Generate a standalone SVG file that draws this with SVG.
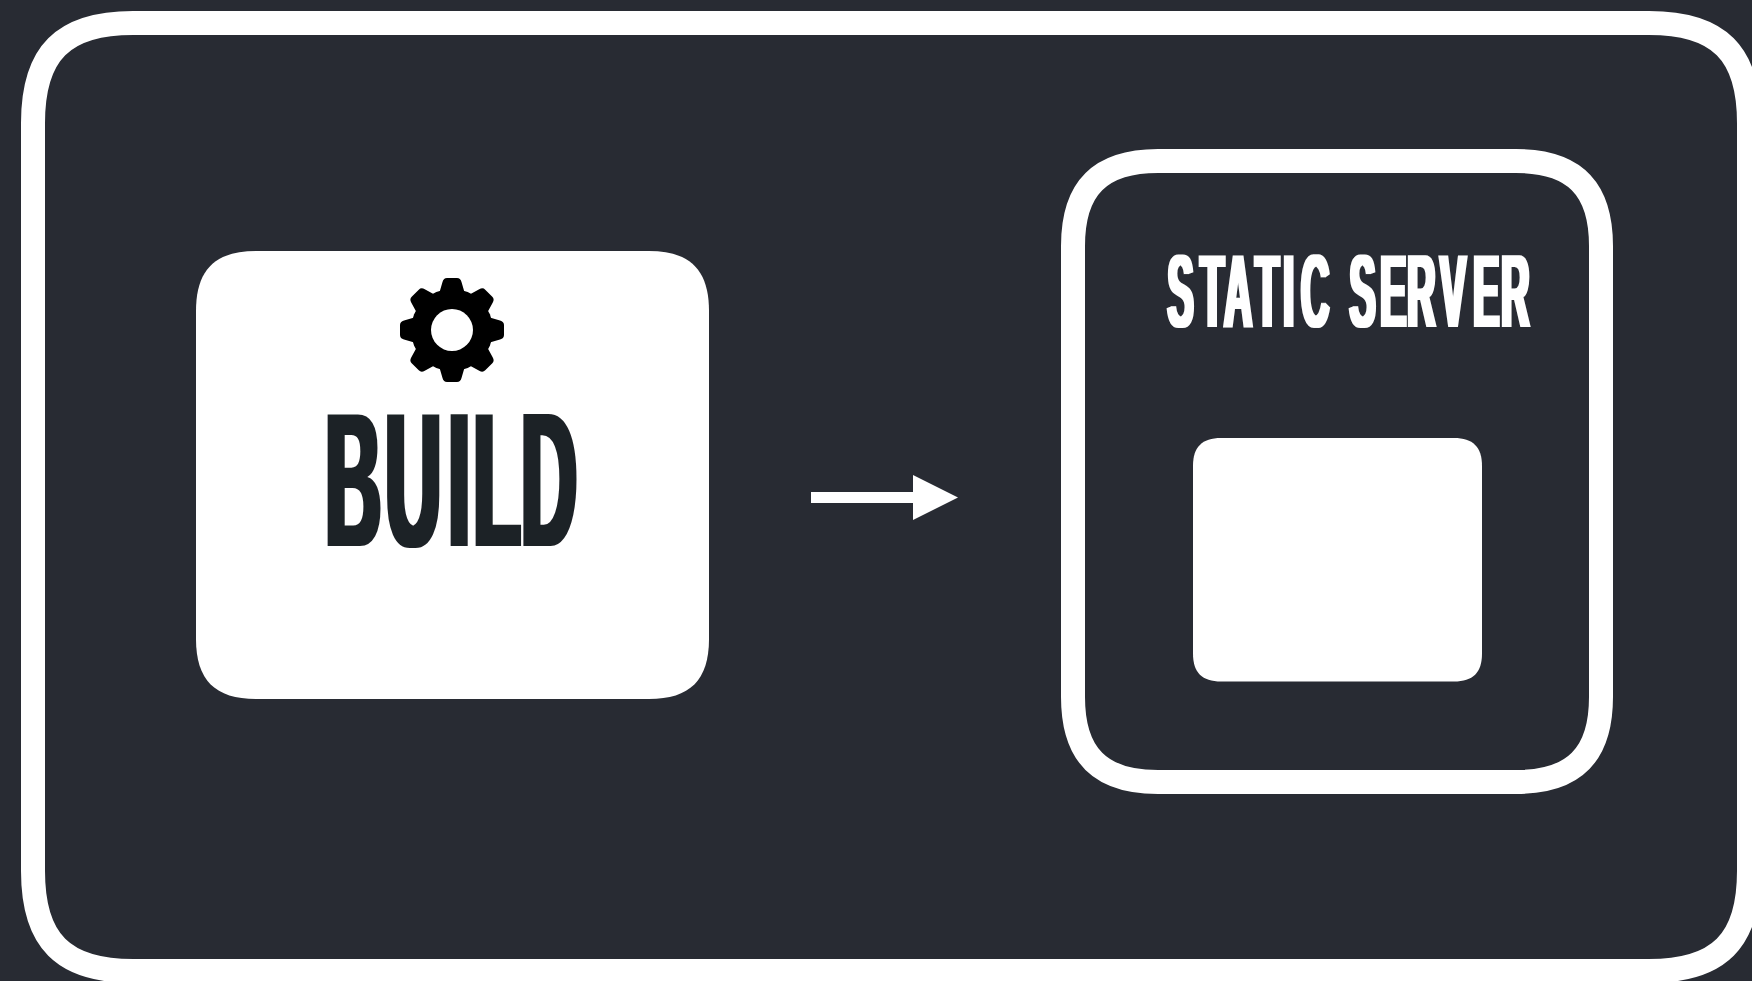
<svg xmlns="http://www.w3.org/2000/svg" width="1752" height="981" viewBox="0 0 1752 981">
<style>
.bg{fill:#282b33}
.frame{fill:none;stroke:#fff;stroke-width:24}
.solid{fill:#fff}
.label{font-family:"Liberation Sans",Arial,sans-serif;font-weight:700}
</style>
<defs>
<path id="tooth" d="M-13,-36 L-9.500,-48 Q-8.500,-52 -5,-52 L5,-52 Q8.500,-52 9.500,-48 L13,-36 Z" fill="#000"/>
<filter id="wideLg" filterUnits="userSpaceOnUse" x="300" y="380" width="310" height="190"><feMorphology operator="dilate" radius="3 0"/></filter>
<filter id="wideSm" filterUnits="userSpaceOnUse" x="1140" y="230" width="420" height="120"><feMorphology operator="dilate" radius="2 0"/></filter>
</defs>
<rect class="bg" width="1752" height="981"/>
<g id="outer-frame">
<path class="frame" d="M133,23 L1649,23 C1719,23 1749,53 1749,123 L1749,871 C1749,941 1719,971 1649,971 L133,971 C63,971 33,941 33,871 L33,123 C33,53 63,23 133,23 Z"/>
</g>
<g id="build">
<path class="solid" d="M256,251 L649,251 C690,251 709,270 709,311 L709,639 C709,680 690,699 649,699 L256,699 C215,699 196,680 196,639 L196,311 C196,270 215,251 256,251 Z"/>
<g id="gear" transform="translate(452,330)">
<circle r="41" fill="#000"/>
<use href="#tooth"/>
<use href="#tooth" transform="rotate(45)"/>
<use href="#tooth" transform="rotate(90)"/>
<use href="#tooth" transform="rotate(135)"/>
<use href="#tooth" transform="rotate(180)"/>
<use href="#tooth" transform="rotate(225)"/>
<use href="#tooth" transform="rotate(270)"/>
<use href="#tooth" transform="rotate(315)"/>
<circle r="21" fill="#fff"/>
</g>
<g filter="url(#wideLg)">
<text class="label" transform="translate(328,546) scale(.4,1)" x="-6 144 301.500 364 483" y="0" font-size="192" fill="#1d2025">BUILD</text>
</g>
</g>
<g id="connectors">
<path class="solid" d="M811,492 L913,492 L913,475 L958,497.500 L913,520 L913,503 L811,503 Z"/>
</g>
<g id="static-server">
<path class="frame" d="M1158,161 L1516,161 C1574,161 1601,188 1601,246 L1601,697 C1601,755 1574,782 1516,782 L1158,782 C1100,782 1073,755 1073,697 L1073,246 C1073,188 1100,161 1158,161 Z"/>
<g filter="url(#wideSm)">
<text class="label" transform="translate(1167,327) scale(.38,1)" x="1 87.300 150 232.100 306 352.500 455 480 561.300 632.300 718.400 806 879.700" y="0" font-size="103" fill="#fff">STATIC SERVER</text>
</g>
<g id="site">
<path class="solid" d="M1221,438 L1454,438 C1473,438 1482,447 1482,466 L1482,653.500 C1482,672.500 1473,681.500 1454,681.500 L1221,681.500 C1202,681.500 1193,672.500 1193,653.500 L1193,466 C1193,447 1202,438 1221,438 Z"/>
</g>
</g>
</svg>
